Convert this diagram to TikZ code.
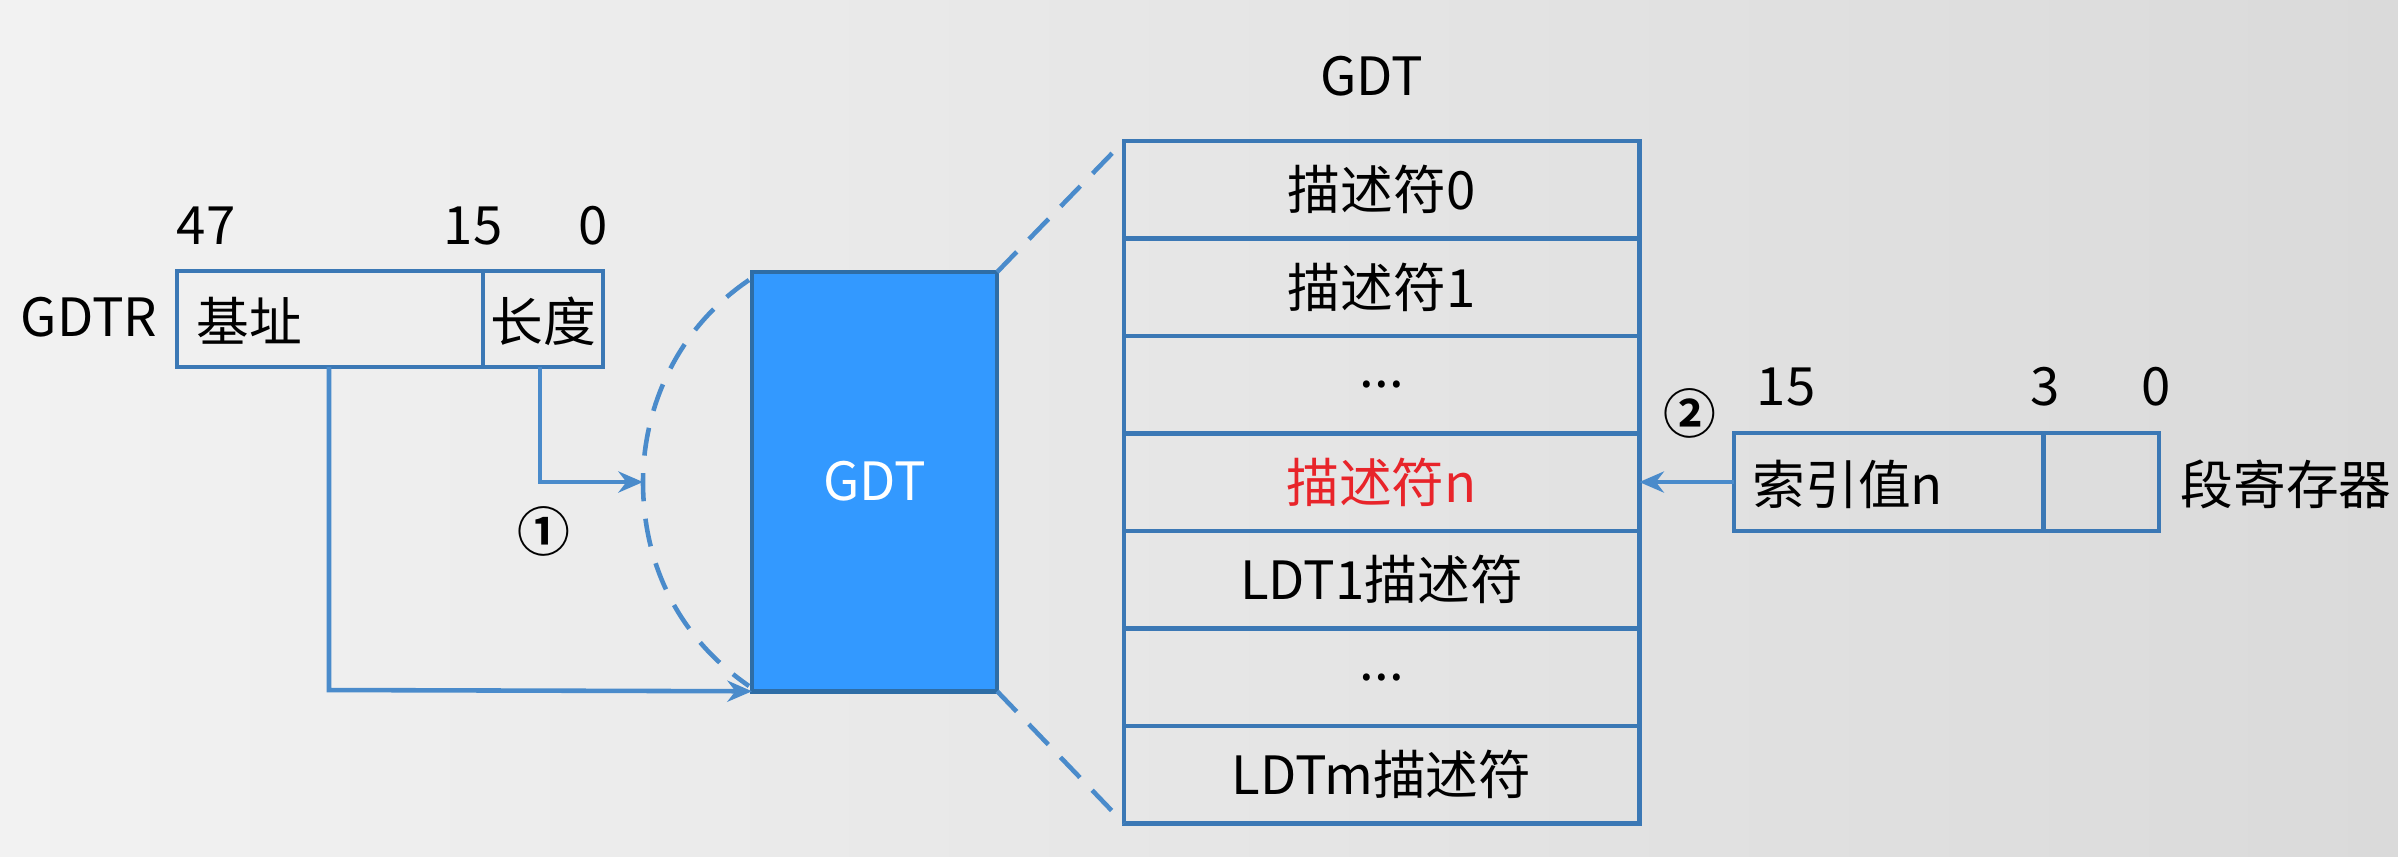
\documentclass[tikz,border=0pt]{standalone}
\usepackage{fontspec}
\setmainfont{Noto Sans CJK SC}[BoldFont={Noto Sans CJK SC Bold}]
\usetikzlibrary{arrows.meta}
\definecolor{bgA}{HTML}{F2F2F2}
\definecolor{bgB}{HTML}{DADADA}
\definecolor{edge}{HTML}{3B78B5}
\definecolor{conn}{HTML}{4A8BCB}
\definecolor{gdtfill}{HTML}{3399FF}
\definecolor{gdtedge}{HTML}{2E6DA6}
\definecolor{redtxt}{HTML}{E8242A}
\tikzset{
  txt/.style={font=\fontsize{15}{17}\selectfont, text=black, inner sep=0pt},
  circnum/.style={font=\fontsize{15}{17}\selectfont\bfseries, text=black, inner sep=0pt},
  cell/.style={draw=edge, line width=1.3pt, inner sep=0pt, outer sep=0pt, anchor=north west},
  row/.style={cell, minimum width=5.15cm, minimum height=0.9743cm, font=\fontsize{15}{17}\selectfont},
  conline/.style={draw=conn, line width=1.3pt, -{Stealth[length=7pt,width=6pt]}},
  dashline/.style={draw=conn, line width=1.3pt, dash pattern=on 8pt off 5pt},
}
\begin{document}
\begin{tikzpicture}[x=0.01cm, y=-0.01cm]
\useasboundingbox (0,0) rectangle (2398,856);
\fill[left color=bgA, right color=bgB] (0,0) rectangle (2398,856);

% GDTR register
\node[txt] (gdtrlbl) at (89,317) {GDTR};
\node[cell, minimum width=3.06cm, minimum height=0.96cm] (base) at (177,271) {};
\node[cell, minimum width=1.20cm, minimum height=0.96cm] (len) at (483,271) {};
\node[txt, anchor=west] (basetxt) at (196,321) {基址};
\node[txt] (lentxt) at (543,321) {长度};
\node[txt] (n47) at (206,226) {47};
\node[txt] (n15a) at (473,226) {15};
\node[txt] (n0a) at (593,226) {0};

% blue GDT box
\node[draw=gdtedge, fill=gdtfill, line width=1.3pt, minimum width=2.45cm, minimum height=4.19cm, anchor=north west, inner sep=0pt, outer sep=0pt] (gdtbox) at (752,272) {};
\node[font=\fontsize{15}{17}\selectfont, text=white, inner sep=0pt] (gdtboxtxt) at (gdtbox.center) {GDT};

% dashed curve on left of box
\coordinate (ctop) at (749,280);
\coordinate (cmid) at (643,482);
\coordinate (cbot) at (749,686);
\draw[dashline] (ctop) .. controls (675,330) and (643,410) .. (cmid) .. controls (643,560) and (675,635) .. (cbot);

% GDT table
\node[txt] (gdttitle) at (1372,76) {GDT};
\node[row] (r0) at (1124,141) {描述符0};
\node[row] (r1) at (r0.south west) {描述符1};
\node[row] (r2) at (r1.south west) {...};
\node[row, text=redtxt] (r3) at (r2.south west) {描述符n};
\node[row] (r4) at (r3.south west) {LDT1描述符};
\node[row] (r5) at (r4.south west) {...};
\node[row] (r6) at (r5.south west) {LDTm描述符};

% zoom lines
\draw[dashline] (gdtbox.north east) -- (r0.north west);
\draw[dashline] (gdtbox.south east) -- (r6.south west);

% connectors
\coordinate (basedown) at (329,690);
\draw[conline] (base.south west -| basedown) -- (basedown) -- (gdtbox.south west);
\coordinate (lendown) at (540,482);
\draw[conline] (len.south west -| lendown) -- (lendown) -- (cmid);
\node[circnum] (c1) at (544,531) {①};

% segment register
\node[cell, minimum width=3.09cm, minimum height=0.98cm] (idx) at (1734,433) {};
\node[cell, minimum width=1.16cm, minimum height=0.98cm] (ti) at (2043,433) {};
\node[txt, anchor=west] (idxtxt) at (1752,484) {索引值n};
\node[txt] (seglbl) at (2286,484) {段寄存器};
\node[txt] (n15b) at (1786,387) {15};
\node[txt] (n3) at (2045,387) {3};
\node[txt] (n0b) at (2156,387) {0};
\node[circnum] (c2) at (1690,413) {②};
\draw[conline] (idx.west) -- (idx.west -| r3.east);
\end{tikzpicture}
\end{document}
